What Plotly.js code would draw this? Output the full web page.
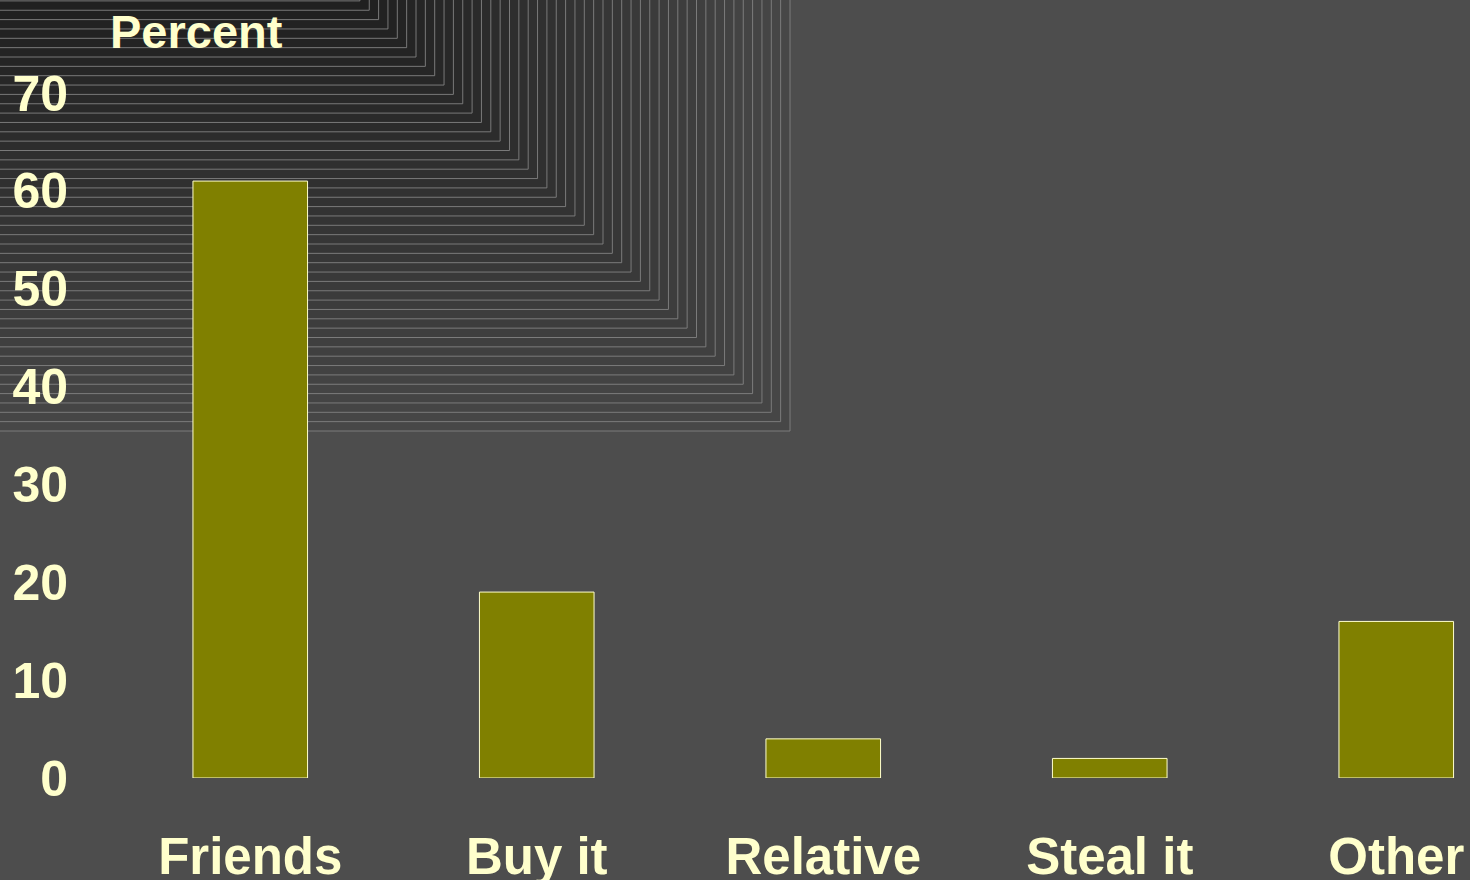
<!DOCTYPE html>
<html>
<head>
<meta charset="utf-8">
<script src="https://cdn.plot.ly/plotly-3.0.1.min.js"></script>
<style>
html,body{margin:0;padding:0;background:#4d4d4d;}
#chart{width:1470px;height:880px;}
</style>
</head>
<body>
<div id="chart"></div>
<script>
const categories = ["Friends", "Buy it", "Relative", "Steal it", "Other"];
const percentValues = [61, 19, 4, 2, 16];
const yTickValues = [0, 10, 20, 30, 40, 50, 60, 70];
const yAxisTitle = "Percent";

const W = 1470, H = 880;
const M = {l: 107, r: 0, t: 93, b: 102};
const pw = W - M.l - M.r, ph = H - M.t - M.b;
const toPX = px => (px - M.l) / pw;
const toPY = py => (H - M.b - py) / ph;

// decorative nested-rectangle background (top-left corner)
const shapes = [];
const nRect = 47;
for (let k = 0; k < nRect; k++) {
  const bottom = 431 - k * 9.35;
  const right = bottom + 359;
  const t = k / (nRect - 1);
  const c = Math.round(0x47 + (0x1f - 0x47) * t);
  const fill = `rgb(${c},${c},${c})`;
  shapes.push({
    type: 'rect', layer: 'below', xref: 'paper', yref: 'paper',
    x0: toPX(-20), x1: toPX(right), y0: toPY(bottom), y1: toPY(-20),
    fillcolor: fill, line: {color: 'rgba(130,130,130,0.9)', width: 1}
  });
}

const txt = '#ffffcc';
const fontFam = '"Liberation Sans", Arial, Helvetica, sans-serif';

const data = [{
  type: 'bar', x: categories, y: percentValues,
  marker: {color: '#808000', line: {color: txt, width: 1}},
  hoverinfo: 'none'
}];

const layout = {
  width: W, height: H, margin: M,
  paper_bgcolor: '#4d4d4d', plot_bgcolor: 'rgba(0,0,0,0)',
  showlegend: false, bargap: 0.6,
  shapes: shapes,
  font: {family: fontFam, color: txt},
  xaxis: {
    type: 'category', range: [-0.5, -0.5 + pw / 286.5],
    showgrid: false, zeroline: false, showline: false, ticks: '',
    tickfont: {family: fontFam, size: 51, color: txt, weight: 'bold'},
    ticklabelstandoff: 44, fixedrange: true
  },
  yaxis: {
    range: [0, 70], tickvals: yTickValues, ticktext: yTickValues.map(String),
    showgrid: false, zeroline: false, showline: false, ticks: '',
    tickfont: {family: fontFam, size: 50, color: txt, weight: 'bold'},
    ticklabelstandoff: 38, fixedrange: true
  },
  annotations: [{
    text: yAxisTitle, xref: 'paper', yref: 'paper',
    x: toPX(108), y: toPY(31), xanchor: 'left', yanchor: 'middle',
    showarrow: false, font: {family: fontFam, size: 47, color: txt, weight: 'bold'}
  }]
};

Plotly.newPlot('chart', data, layout, {displayModeBar: false, staticPlot: true});
</script>
</body>
</html>
